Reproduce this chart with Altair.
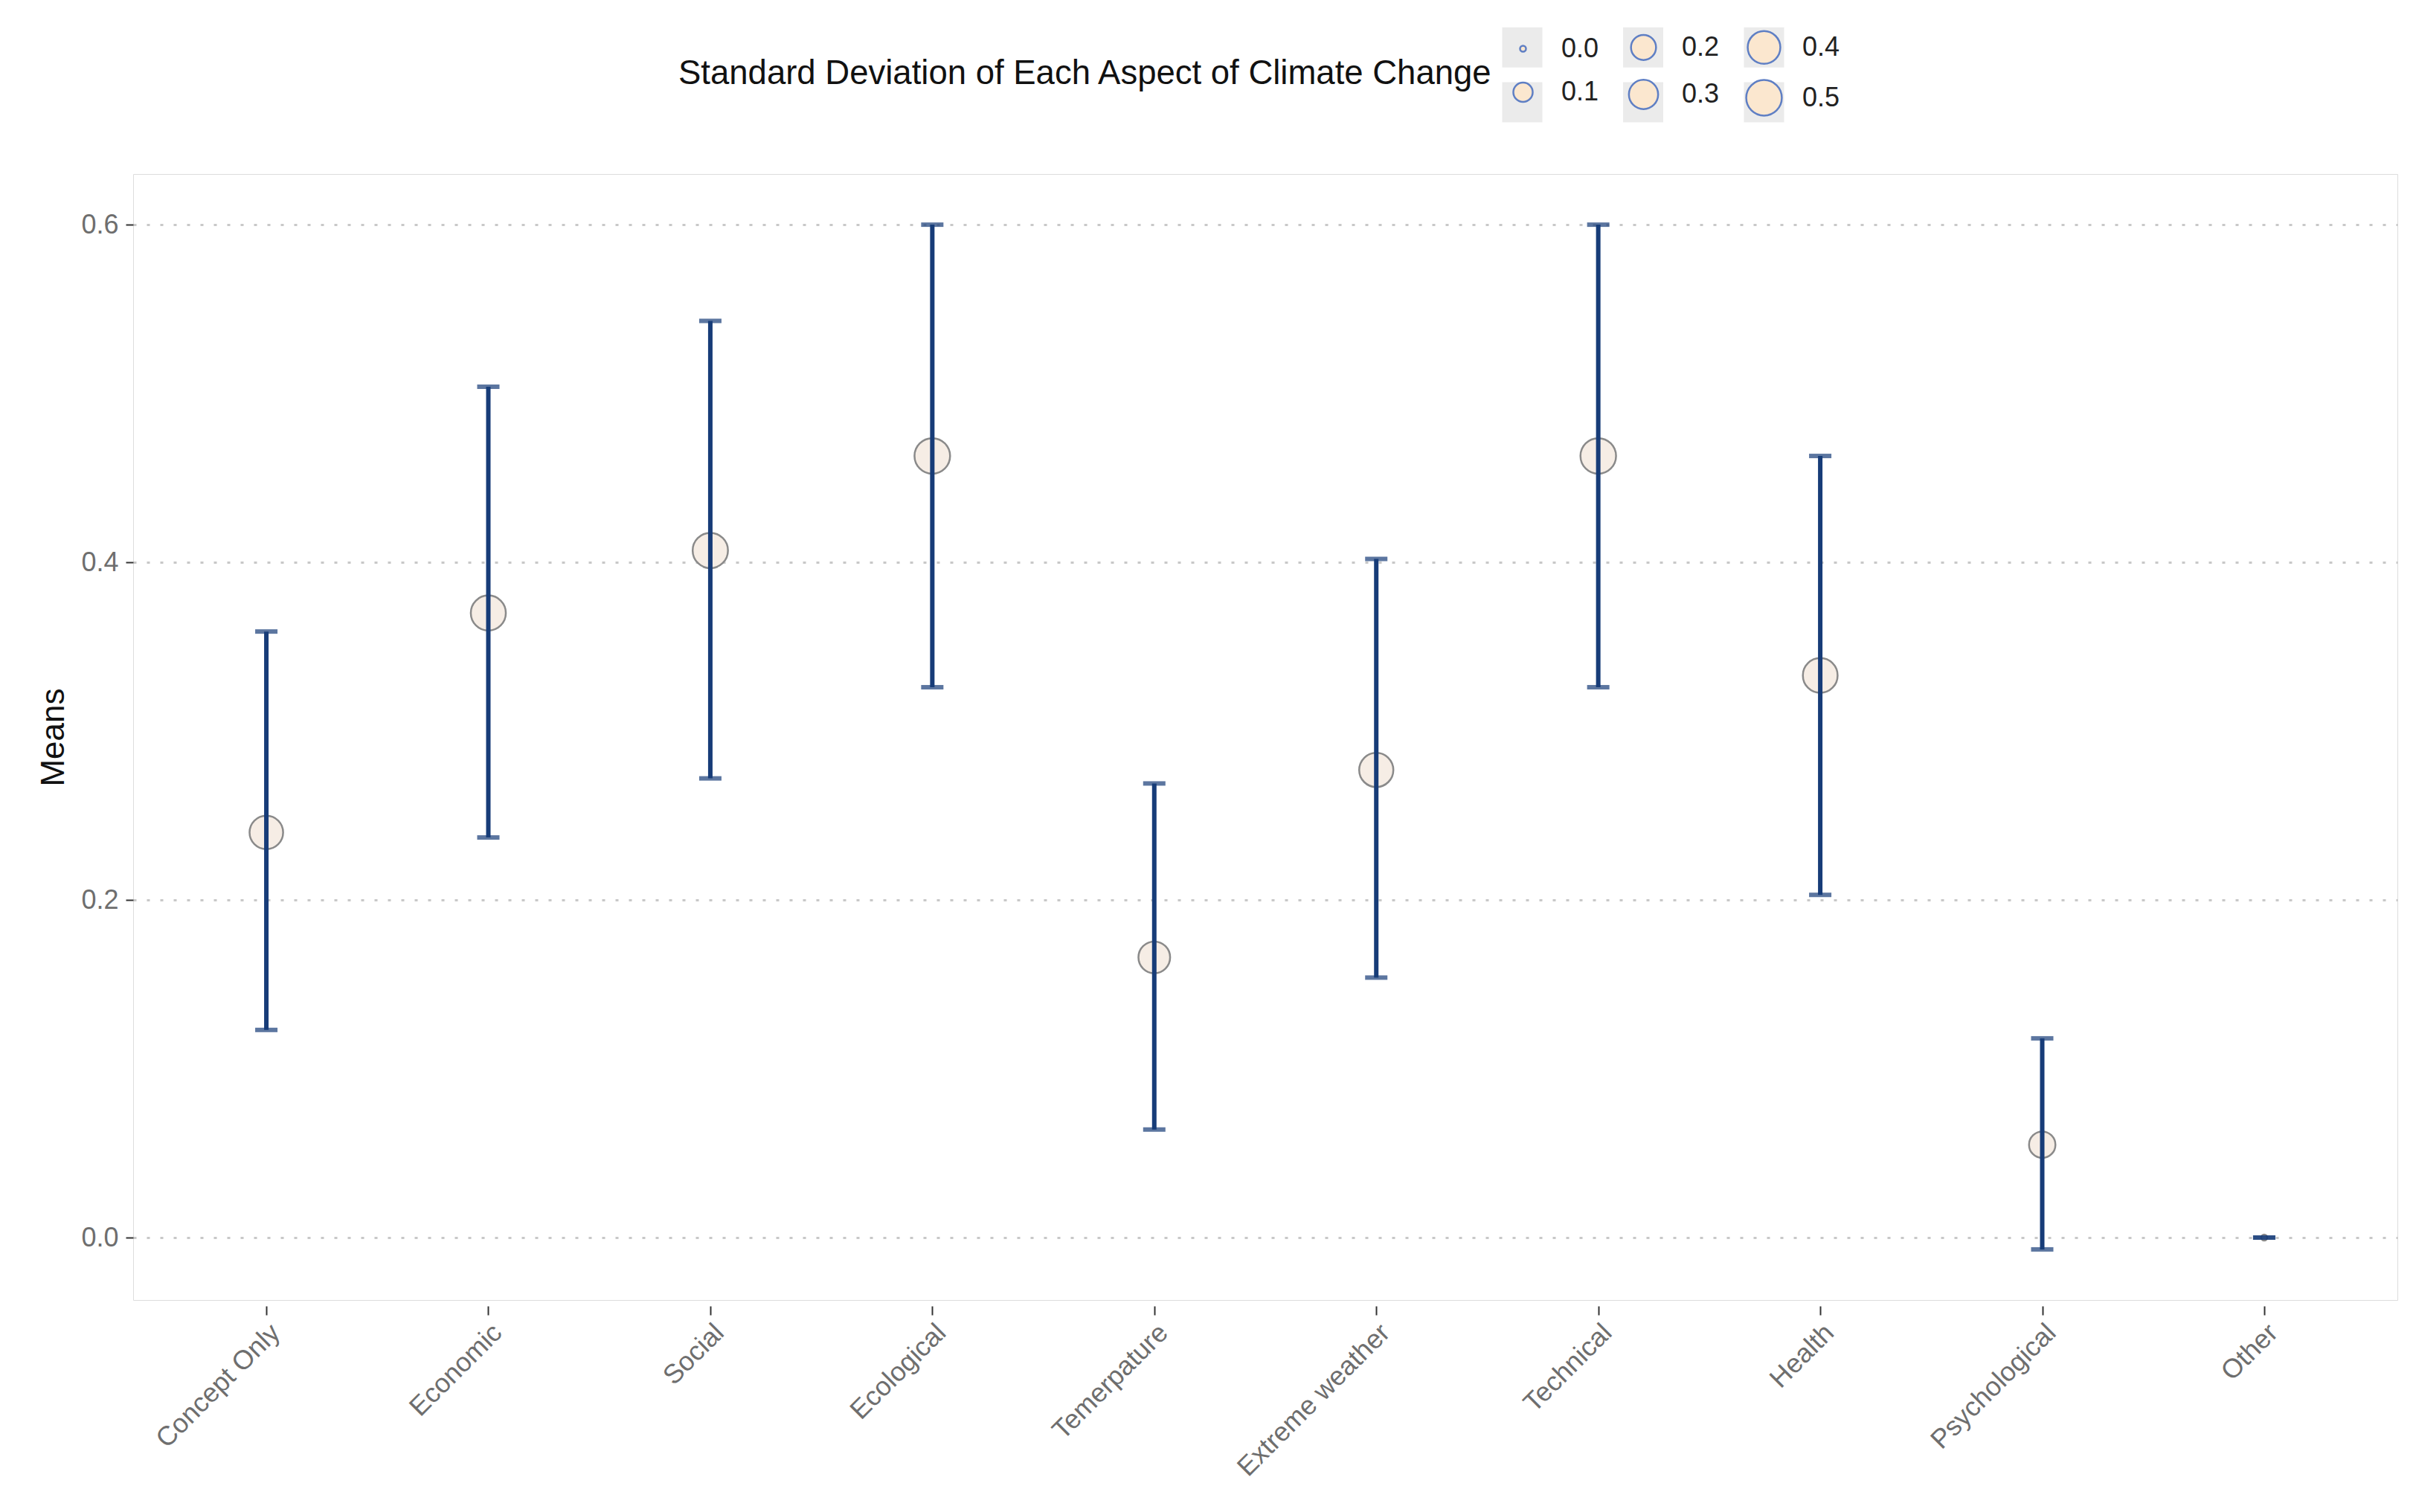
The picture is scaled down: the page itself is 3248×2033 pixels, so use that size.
import altair as alt
import pandas as pd

categories = ["Concept Only", "Economic", "Social", "Ecological", "Temerpature",
              "Extreme weather", "Technical", "Health", "Psychological", "Other"]
means = [0.240, 0.370, 0.407, 0.463, 0.166, 0.277, 0.463, 0.333, 0.055, 0.0]
lower = [0.123, 0.237, 0.272, 0.326, 0.064, 0.154, 0.326, 0.203, -0.007, 0.0]
upper = [0.359, 0.504, 0.543, 0.600, 0.269, 0.402, 0.600, 0.463, 0.118, 0.0]
sds = [0.43, 0.48, 0.49, 0.50, 0.37, 0.45, 0.50, 0.47, 0.23, 0.0]
legend_values = [0.0, 0.1, 0.2, 0.3, 0.4, 0.5]
y_ticks = [0.0, 0.2, 0.4, 0.6]

df = pd.DataFrame({"cat": categories, "mean": means, "lo": lower, "hi": upper, "sd": sds})

FONT = "Liberation Sans"
NAVY = "#173c78"
GREY = "#6e6e6e"
KEY_BG = "#ebebeb"
LEG_TITLE = "Standard Deviation of Each Aspect of Climate Change"
SIZE_MAX = 2290
size_scale = dict(type="pow", exponent=0.8, domain=[0, 0.5], range=[64, SIZE_MAX])

LEG_X = 733
LEG_Y = -196
TITLE_FS = 45.5
TITLE_W = 24.067 * TITLE_FS   # width of the legend title
TITLE_PAD = 14
LABEL_W = 41.5   # layout width of "0.0" labels
LABEL_OFF = 26
COL_PAD = 30
ROW_PAD = 9

legend_main = alt.Legend(
    orient="none", legendX=LEG_X, legendY=LEG_Y,
    values=legend_values, format=".1f", columns=3, gridAlign="all",
    columnPadding=COL_PAD, rowPadding=ROW_PAD, labelOffset=LABEL_OFF,
    symbolType="circle", symbolStrokeWidth=2.5,
    titleOrient="left", titleAnchor="middle", titleBaseline="middle",
    titleFont=FONT, titleFontSize=TITLE_FS, titleFontWeight="normal",
    titleColor="#111111", titlePadding=TITLE_PAD, titleLimit=2000,
    labelFont=FONT, labelFontSize=36, labelColor="#222222",
    padding=0, zindex=2)

legend_bg = alt.Legend(
    orient="none", legendX=round(LEG_X + TITLE_W + TITLE_PAD), legendY=LEG_Y,
    values=legend_values, columns=3, gridAlign="all", title=None,
    columnPadding=COL_PAD + LABEL_OFF + LABEL_W, rowPadding=ROW_PAD, labelOffset=0,
    labelExpr="''", symbolType="M-1.128,-1.128H1.128V1.128H-1.128Z", symbolStrokeWidth=2.5,
    symbolStrokeColor=KEY_BG, padding=0, zindex=1)

xenc = alt.X("cat:N", sort=categories, title=None,
             scale=alt.Scale(type="point", padding=0.6),
             axis=alt.Axis(labelAngle=315, labelFontSize=36, labelColor=GREY, labelFont=FONT,
                           labelLimit=1000,
                           domain=False, ticks=True, tickSize=12, tickColor="#333333", tickWidth=2,
                           offset=8, labelPadding=6, grid=False))
yscale = alt.Scale(domain=[-0.037, 0.63], nice=False, zero=False)

points = alt.Chart(df).mark_point(filled=False, fill="#f4e9de", fillOpacity=0.8,
                                  stroke="#8a8a8a", strokeWidth=2.5, opacity=1).encode(
    x=xenc,
    y=alt.Y("mean:Q", scale=yscale, title="Means",
            axis=alt.Axis(values=y_ticks, format=".1f", labelFontSize=36, labelColor=GREY,
                          labelFont=FONT, titleFont=FONT, titleFontSize=44, titleFontWeight="normal",
                          titleColor="#111111", titlePadding=14, domain=False, tickSize=10,
                          tickColor="#333333", tickWidth=2, labelPadding=10,
                          grid=True, gridColor="#c8c8c8", gridDash=[4, 14], gridWidth=3)),
    size=alt.Size("sd:Q", scale=alt.Scale(**size_scale), legend=None),
)

# legend-only layer: circles with blue outline
legend_circles = alt.Chart(df).transform_filter("false").mark_point(
    filled=False, fill="#fbe7cf", fillOpacity=1, stroke="#5f7fc4", strokeWidth=2.5, opacity=1
).encode(
    size=alt.Size("sd:Q", title=LEG_TITLE, scale=alt.Scale(**size_scale), legend=legend_main),
)

# legend-only layer: grey key backgrounds
legend_keys = alt.Chart(df).transform_filter("false").mark_point(
    color=KEY_BG, filled=True, opacity=1
).encode(
    size=alt.Size("sd:Q", scale=alt.Scale(domain=[0, 0.5], range=[SIZE_MAX, SIZE_MAX]),
                  legend=legend_bg),
)

rules = alt.Chart(df).mark_rule(color=NAVY, strokeWidth=6).encode(
    x=alt.X("cat:N", sort=categories), y=alt.Y("lo:Q", scale=yscale), y2="hi:Q")

caps_lo = alt.Chart(df).mark_tick(color=NAVY, size=30, thickness=6, orient="horizontal").encode(
    x=alt.X("cat:N", sort=categories), y=alt.Y("lo:Q", scale=yscale))
caps_hi = alt.Chart(df).mark_tick(color=NAVY, size=30, thickness=6, orient="horizontal").encode(
    x=alt.X("cat:N", sort=categories), y=alt.Y("hi:Q", scale=yscale))

chart = alt.layer(points, rules, caps_lo, caps_hi, legend_keys, legend_circles).resolve_scale(
    size="independent"
).properties(
    width=3044, height=1514,
    autosize=alt.AutoSizeParams(type="none"),
    padding={"left": 171, "top": 226, "right": 17, "bottom": 270},
).configure_view(strokeWidth=0).configure(background="white")

chart.save("out.html", embed_options={"renderer": "svg", "actions": False})
